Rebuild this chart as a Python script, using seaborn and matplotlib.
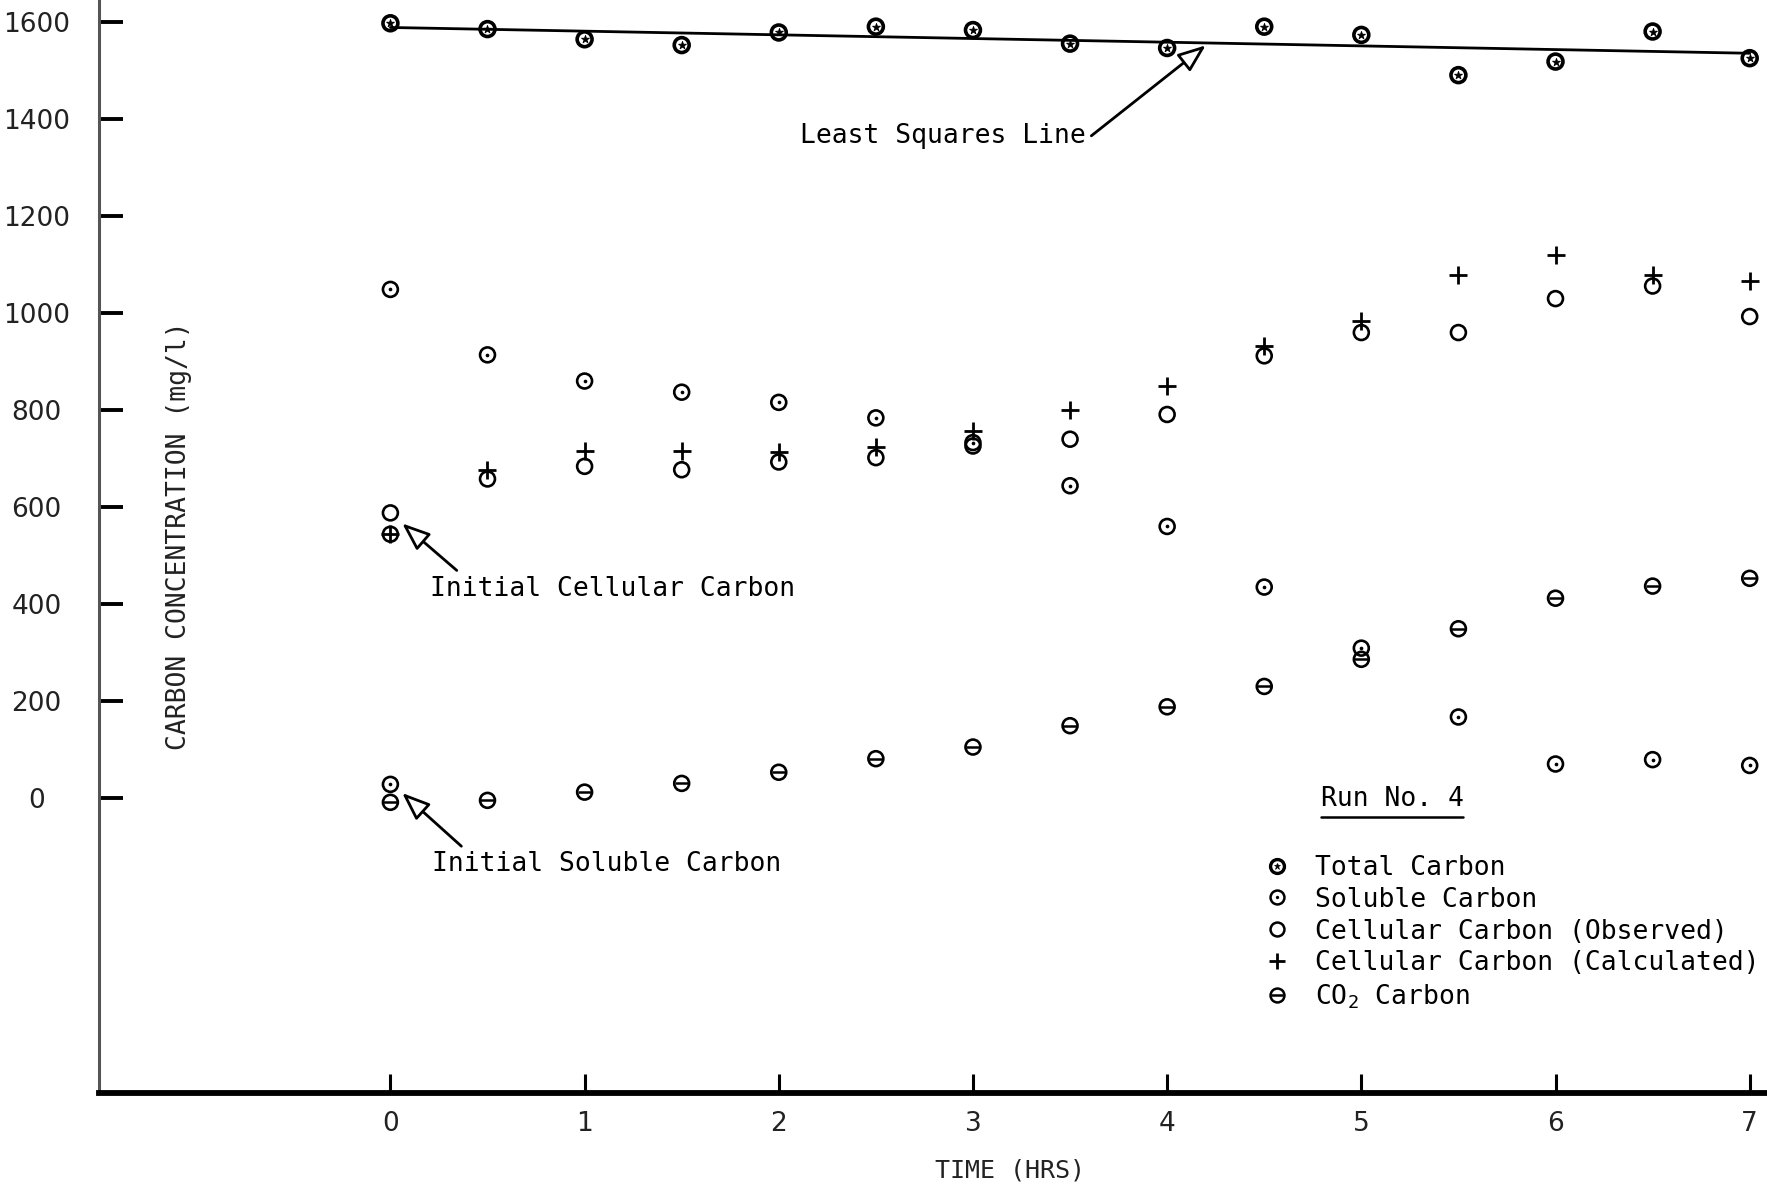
import numpy as np
import pandas as pd
import matplotlib
matplotlib.use("Agg")
import matplotlib.pyplot as plt
from matplotlib.lines import Line2D
from matplotlib import font_manager
import seaborn as sns

# ---------------- data ----------------
time_hrs = [0, 0.5, 1, 1.5, 2, 2.5, 3, 3.5, 4, 4.5, 5, 5.5, 6, 6.5, 7]
total_carbon = [1598, 1586, 1565, 1553, 1579, 1591, 1584, 1556, 1547,
                1591, 1574, 1491, 1519, 1581, 1526]
soluble_carbon = [1049, 914, 860, 837, 816, 784, 733, 644, 560,
                  435, 309, 167, 70, 79, 67]
cellular_observed = [544, 658, 684, 677, 693, 702, 726, 740, 791,
                     912, 960, 960, 1030, 1056, 993]
cellular_calculated = [544, 677, 716, 716, 714, 723, 756, 800, 849,
                       933, 984, 1079, 1121, 1079, 1067]
co2_carbon = [-9, -5, 12, 30, 53, 81, 105, 149, 188, 230, 286, 349,
              412, 437, 453]
initial_time = [0]
initial_cellular = [588]
initial_soluble = [28]

y_ticks = [0, 200, 400, 600, 800, 1000, 1200, 1400, 1600]
x_ticks = [0, 1, 2, 3, 4, 5, 6, 7]
legend_labels = ["Total Carbon", "Soluble Carbon",
                 "Cellular Carbon (Observed)",
                 "Cellular Carbon (Calculated)", "CO$_2$ Carbon"]

# ---------------- style ----------------
sns.set_theme(style="white")
MONO = ["DejaVu Sans Mono", "DejaVu Sans"]
plt.rcParams["font.family"] = MONO
plt.rcParams["mathtext.fontset"] = "custom"
plt.rcParams["mathtext.rm"] = "DejaVu Sans Mono"
plt.rcParams["mathtext.it"] = "DejaVu Sans Mono"

installed = {f.name for f in font_manager.fontManager.ttflist}
if "Liberation Sans Narrow" in installed:
    TICK_FAMILY, TICK_SIZE = ["Liberation Sans Narrow"], 21
else:
    TICK_FAMILY, TICK_SIZE = ["DejaVu Sans"], 19

fig = plt.figure(figsize=(17.67, 11.89), dpi=100)
ax = fig.add_axes([0.0561, 0.0806, 0.9429, 0.9194])
ax.set_facecolor("white")

def frame(vals, t=time_hrs):
    return pd.DataFrame({"time": t, "value": vals})

df_total = frame(total_carbon)
df_sol = frame(soluble_carbon)
df_obs = frame(cellular_observed)
df_calc = frame(cellular_calculated)
df_co2 = frame(co2_carbon)

K = "black"
CIRC = 115
LW = 1.9

# least squares line through total carbon
sns.regplot(data=df_total, x="time", y="value", scatter=False, ci=None,
            color=K, line_kws={"lw": 2.0}, ax=ax)

# Total carbon: heavy circle with star inside
sns.scatterplot(data=df_total, x="time", y="value", marker="o", s=CIRC,
                facecolor="none", edgecolor=K, linewidth=2.6, ax=ax, zorder=4)
sns.scatterplot(data=df_total, x="time", y="value", marker="*", s=35,
                color=K, edgecolor=K, linewidth=0.6, ax=ax, zorder=4)

# Soluble carbon: circle with dot
for d in (df_sol, frame(initial_soluble, initial_time)):
    sns.scatterplot(data=d, x="time", y="value", marker="o", s=CIRC,
                    facecolor="none", edgecolor=K, linewidth=LW, ax=ax, zorder=4)
    sns.scatterplot(data=d, x="time", y="value", marker="o", s=7,
                    color=K, edgecolor=K, linewidth=0, ax=ax, zorder=4)

# Cellular observed: open circle
for d in (df_obs, frame(initial_cellular, initial_time)):
    sns.scatterplot(data=d, x="time", y="value", marker="o", s=CIRC,
                    facecolor="none", edgecolor=K, linewidth=LW, ax=ax, zorder=4)

# Cellular calculated: plus
sns.scatterplot(data=df_calc, x="time", y="value", marker="+", s=150,
                color=K, linewidth=2.0, ax=ax, zorder=4)

# CO2 carbon: circle with horizontal bar
sns.scatterplot(data=df_co2, x="time", y="value", marker="o", s=CIRC,
                facecolor="none", edgecolor=K, linewidth=LW, ax=ax, zorder=4)
sns.scatterplot(data=df_co2, x="time", y="value", marker="_", s=95,
                color=K, linewidth=1.8, ax=ax, zorder=4)

# ---------------- axes ----------------
ax.set_xlim(-1.5, 7.08)
ax.set_ylim(-609, 1646)
ax.set_xticks(x_ticks)
ax.set_xticklabels([str(v) for v in x_ticks])
ax.set_yticks(y_ticks)
ax.set_yticklabels([str(v) for v in y_ticks])

for s in ("top", "right"):
    ax.spines[s].set_visible(False)
ax.spines["bottom"].set_linewidth(4.2)
ax.spines["bottom"].set_color(K)
ax.spines["left"].set_linewidth(2.2)
ax.spines["left"].set_color("#555555")

ax.tick_params(axis="x", direction="in", length=14, width=2.2, color=K,
               pad=13, labelsize=TICK_SIZE, bottom=True)
ax.tick_params(axis="y", direction="in", length=17, width=2.8, color=K,
               pad=45, labelsize=TICK_SIZE, left=True)
for lab in ax.get_yticklabels():
    lab.set_horizontalalignment("center")
for lab in ax.get_xticklabels() + ax.get_yticklabels():
    lab.set_fontfamily(TICK_FAMILY)
    lab.set_color("#222222")

ax.set_xlabel("TIME (HRS)", fontsize=18, color="#222222")
ax.xaxis.set_label_coords(0.547, -0.060)
ax.set_ylabel("CARBON CONCENTRATION (mg/l)", fontsize=19, color="#222222")
ax.yaxis.set_label_coords(0.056, 0.51)
ax.grid(False)

# ---------------- annotations ----------------
FS = 19
arrow = dict(arrowstyle="-|>,head_length=0.9,head_width=0.35",
             fc="white", ec=K, lw=2.0, shrinkA=2, shrinkB=2)

ax.annotate("Least Squares Line", xy=(4.21, 1556), xytext=(2.11, 1365),
            ha="left", va="center", fontsize=FS, color=K,
            arrowprops=dict(arrow, relpos=(1.0, 0.35)))
ax.annotate("Initial Cellular Carbon", xy=(0.05, 570), xytext=(0.203, 432),
            ha="left", va="center", fontsize=FS, color=K,
            arrowprops=dict(arrow, relpos=(0.09, 1.0)))
ax.annotate("Initial Soluble Carbon", xy=(0.05, 14), xytext=(0.215, -137),
            ha="left", va="center", fontsize=FS, color=K,
            arrowprops=dict(arrow, relpos=(0.1, 1.0)))

# ---------------- legend ----------------
run_txt = ax.text(4.79, -2, "Run No. 4", ha="left", va="center",
                  fontsize=FS, color=K)

def mk(marker, ms, mew, fill=False):
    return Line2D([], [], ls="none", marker=marker, ms=ms, mew=mew,
                  mfc=(K if fill else "none"), mec=K, color=K)

handles = [
    (mk("o", 10, 2.4), mk("*", 5, 0.5, True)),
    (mk("o", 10, 1.8), mk("o", 2.4, 0, True)),
    mk("o", 10, 1.8),
    mk("+", 12, 2.0),
    (mk("o", 10, 1.8), mk("_", 9, 1.8)),
]
leg = ax.legend(handles, legend_labels, loc="upper left",
                bbox_to_anchor=(0.718, 0.281), bbox_transform=fig.transFigure,
                frameon=False, fontsize=FS, handlelength=0.6,
                handletextpad=1.15, labelspacing=0.22, borderpad=0,
                borderaxespad=0)
for t in leg.get_texts():
    t.set_color(K)

fig.canvas.draw()
bb = run_txt.get_window_extent()
inv = fig.transFigure.inverted()
(x0, y0), (x1, _) = inv.transform([(bb.x0, bb.y0 - 5), (bb.x1, bb.y0)])
fig.add_artist(Line2D([x0, x1], [y0, y0], transform=fig.transFigure,
                      color=K, lw=1.8))

fig.savefig("out.png", dpi=100, facecolor="white")
